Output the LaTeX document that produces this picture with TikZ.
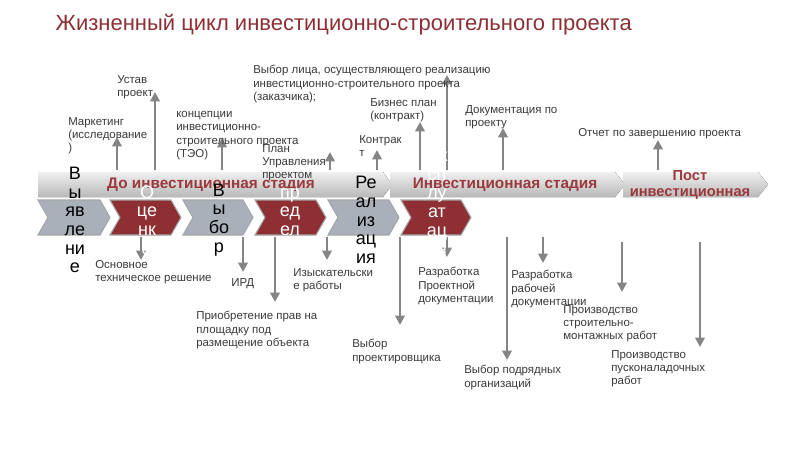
\documentclass[tikz,border=0pt]{standalone}
\usepackage{fontspec}
\setmainfont{Liberation Sans}
\usetikzlibrary{arrows.meta}
\definecolor{dred}{HTML}{8E2F33}
\definecolor{tred}{HTML}{9A3A3E}
\definecolor{cgray}{HTML}{A9B0BA}
\definecolor{agray}{HTML}{858585}
\definecolor{txt}{HTML}{3A3A3A}
\begin{document}
\begin{tikzpicture}[x=0.75pt,y=-0.75pt,
 lab/.style={font=\fontsize{8.6}{10}\selectfont,text=txt,align=left,anchor=north west,inner sep=0pt},
 arr/.style={draw=agray,line width=2.2pt,-{Triangle[length=7pt,width=7pt]}},
 ctext/.style={font=\fontsize{13.5}{14}\selectfont,align=center,inner sep=0pt},
 band/.style={top color=gray!12,bottom color=gray!55,draw=none},
 stg/.style={font=\bfseries\fontsize{11.5}{12}\selectfont,text=tred,align=center}]
\useasboundingbox (0,0) rectangle (800,450);
\fill[white] (0,0) rectangle (800,450);
\node[anchor=west,text=dred,font=\fontsize{16.5}{18}\selectfont] (title) at (51,25) {Жизненный цикл инвестиционно-строительного проекта};
% bands
\fill[band] (38,172) -- (383,172) -- (392,184.5) -- (383,197) -- (38,197) -- cycle;
\fill[band] (390,172) -- (615,172) -- (625,184.5) -- (615,197) -- (390,197) -- cycle;
\fill[band] (623,172) -- (758,172) -- (768,184.5) -- (758,197) -- (623,197) -- cycle;
\node[stg] (s1) at (211,185) {До инвестиционная стадия};
\node[stg] (s2) at (505,185) {Инвестиционная стадия};
\node[stg,font=\bfseries\fontsize{11}{11.5}\selectfont] (s3) at (690,185) {Пост\\инвестиционная};
% up arrows
\draw[arr] (117,170) -- (117,137);
\draw[arr] (155,170) -- (155,92);
\draw[arr] (222,170) -- (222,138);
\draw[arr] (330,170) -- (330,152);
\draw[arr] (377,170) -- (377,150);
\draw[arr] (420,170) -- (420,122);
\draw[arr] (447,170) -- (447,75);
\draw[arr] (503,170) -- (503,128);
\draw[arr] (658,170) -- (658,140);
% chevrons
\foreach \a/\b/\c in {38/110/cgray,110/181/dred,183/253/cgray,255/326/dred,328/399/cgray,401/471/dred}{
 \fill[\c,draw=gray!70,line width=0.8pt] (\a,200) -- (\b-10,200) -- (\b,217.5) -- (\b-10,235) -- (\a,235) -- (\a+10,217.5) -- cycle;}
% down arrows
\draw[arr] (141,237) -- (141,260);
\draw[arr] (243,237) -- (243,272);
\draw[arr] (275,237) -- (275,302);
\draw[arr] (327,237) -- (327,260);
\draw[arr] (400,237) -- (400,325);
\draw[arr] (447,237) -- (447,257);
\draw[arr] (507,237) -- (507,360);
\draw[arr] (543,237) -- (543,263);
\draw[arr] (622,242) -- (622,292);
\draw[arr] (700,242) -- (700,347);
% chevron texts
\node[ctext] (c1) at (75,220) {В\\ы\\яв\\ле\\ни\\е};
\node[ctext,text=white] (c2) at (147,220) {О\\це\\нк\\а};
\node[ctext] (c3) at (219,220) {В\\ы\\бо\\р};
\node[ctext,text=white] (c4) at (290,220) {О\\пр\\ед\\ел\\ен\\ие};
\node[ctext] (c5) at (366,220) {Ре\\ал\\из\\ац\\ия};
\node[ctext,text=white] (c6) at (437,202) {Эк\\сп\\лу\\ат\\ац\\ия};
% labels
\node[lab] (l1) at (68,117) {Маркетинг\\(исследование\\)};
\node[lab] (l2) at (117,75) {Устав\\проект};
\node[lab] (l3) at (176,111) {концепции\\инвестиционно-\\строительного проекта\\(ТЭО)};
\node[lab] (l4) at (262,144) {План\\Управления\\проектом};
\node[lab] (l5) at (359,135) {Контрак\\т};
\node[lab] (l6) at (370,98) {Бизнес план\\(контракт)};
\node[lab] (l7) at (253,65) {Выбор лица, осуществляющего реализацию\\инвестиционно-строительного проекта\\(заказчика);};
\node[lab] (l8) at (465,105) {Документация по\\проекту};
\node[lab] (l9) at (578,128) {Отчет по завершению проекта};
\node[lab] (d1) at (95,260) {Основное\\техническое решение};
\node[lab] (d2) at (231,278) {ИРД};
\node[lab] (d3) at (196,311) {Приобретение прав на\\площадку под\\размещение объекта};
\node[lab] (d4) at (293,268) {Изыскательски\\е работы};
\node[lab] (d5) at (352,339) {Выбор\\проектировщика};
\node[lab] (d6) at (418,267) {Разработка\\Проектной\\документации};
\node[lab] (d7) at (464,365) {Выбор подрядных\\организаций};
\node[lab] (d8) at (511,270) {Разработка\\рабочей\\документации};
\node[lab] (d9) at (563,305) {Производство\\строительно-\\монтажных работ};
\node[lab] (d10) at (611,350) {Производство\\пусконаладочных\\работ};
\end{tikzpicture}
\end{document}
